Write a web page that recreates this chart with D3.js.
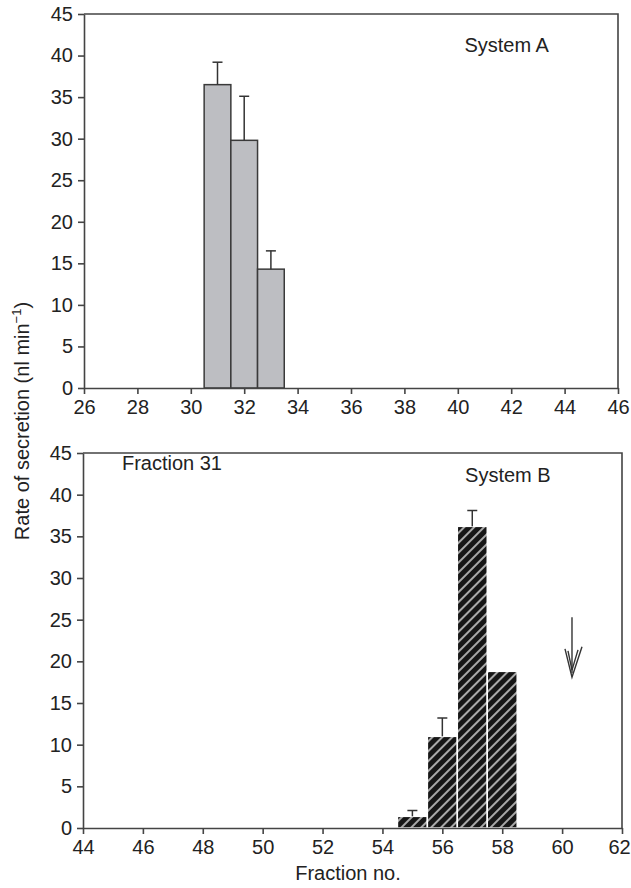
<!DOCTYPE html>
<head>
<meta charset="utf-8">
<script src="https://cdn.jsdelivr.net/npm/d3@7/dist/d3.min.js"></script>
<style>
body { margin: 0; background: #fff; }
svg text { font-family: "Liberation Sans", Arial, sans-serif; fill: #222; }
.axis path, .axis line { stroke: #444; stroke-width: 1.6; }
.axis text { font-size: 20px; fill: #222; }
</style>
</head>
<body>
<svg id="chart" width="631" height="888"></svg>
<script>
// data
var yTicks = [0, 5, 10, 15, 20, 25, 30, 35, 40, 45];

var fractionsA = [31, 32, 33];
var ratesA = [36.5, 29.8, 14.3];
var errorsA = [2.7, 5.3, 2.2];
var xTicksA = [26, 28, 30, 32, 34, 36, 38, 40, 42, 44, 46];

var fractionsB = [55, 56, 57, 58];
var ratesB = [1.4, 11.0, 36.2, 18.8];
var errorsB = [0.7, 2.2, 1.9, 0];
var xTicksB = [44, 46, 48, 50, 52, 54, 56, 58, 60, 62];

var svg = d3.select("#chart");

// hatch for system B bars
var defs = svg.append("defs");
var pat = defs.append("pattern")
    .attr("id", "hatch")
    .attr("patternUnits", "userSpaceOnUse")
    .attr("width", 7).attr("height", 7)
    .attr("patternTransform", "rotate(45)");
pat.append("rect").attr("width", 7).attr("height", 7).attr("fill", "#161616");
pat.append("line").attr("x1", 1).attr("y1", 0).attr("x2", 1).attr("y2", 7)
    .attr("stroke", "#e8e8e8").attr("stroke-width", 1.4);

function panel(box, xDomain, xTicks, fractions, rates, errors, style) {
    var x = d3.scaleLinear().domain(xDomain).range([box.left, box.right]);
    var y = d3.scaleLinear().domain([0, 45]).range([box.bottom, box.top]);
    var g = svg.append("g");

    // frame top + right
    g.append("path")
        .attr("d", `M${box.left},${box.top}H${box.right}V${box.bottom}`)
        .attr("fill", "none").attr("stroke", "#444").attr("stroke-width", 1.6);

    var bars = g.selectAll("rect.bar").data(fractions).enter().append("rect")
        .attr("class", "bar")
        .attr("x", d => x(d - 0.5))
        .attr("width", d => x(d + 0.5) - x(d - 0.5))
        .attr("y", (d, i) => y(rates[i]))
        .attr("height", (d, i) => y(0) - y(rates[i]));
    if (style == "grey") {
        bars.attr("fill", "#bdbec2").attr("stroke", "#3a3a3a").attr("stroke-width", 1.5);
    } else {
        bars.attr("fill", "url(#hatch)").attr("stroke", "#fff").attr("stroke-width", 1.5);
    }

    // error bars, upward only
    fractions.forEach(function(f, i) {
        if (!errors[i]) return;
        var capY = y(rates[i] + errors[i]);
        g.append("line").attr("x1", x(f)).attr("x2", x(f))
            .attr("y1", y(rates[i])).attr("y2", capY)
            .attr("stroke", "#333").attr("stroke-width", 1.5);
        g.append("line").attr("x1", x(f) - 5).attr("x2", x(f) + 5)
            .attr("y1", capY).attr("y2", capY)
            .attr("stroke", "#333").attr("stroke-width", 1.5);
    });

    g.append("g").attr("class", "axis")
        .attr("transform", `translate(${box.left},0)`)
        .call(d3.axisLeft(y).tickValues(yTicks).tickSize(6).tickPadding(5).tickSizeOuter(0));
    var xa = g.append("g").attr("class", "axis")
        .attr("transform", `translate(0,${box.bottom})`)
        .call(d3.axisBottom(x).tickValues(xTicks).tickSize(6).tickPadding(6).tickSizeOuter(0));
    // keep the last label inside the page
    xa.selectAll(".tick text").filter(d => d == xDomain[1] && x(d) > 620).attr("dx", -3);

    return {x: x, y: y, g: g};
}

var a = panel({left: 84, right: 618, top: 14, bottom: 388}, [26, 46], xTicksA, fractionsA, ratesA, errorsA, "grey");
var b = panel({left: 83, right: 622, top: 453, bottom: 828}, [44, 62], xTicksB, fractionsB, ratesB, errorsB, "hatch");

a.g.append("text").attr("x", a.x(40.25)).attr("y", a.y(40.4)).attr("font-size", 20).text("System A");
b.g.append("text").attr("x", b.x(56.76)).attr("y", b.y(41.5)).attr("font-size", 20).text("System B");
b.g.append("text").attr("x", b.x(45.3)).attr("y", b.y(43.0)).attr("font-size", 20).text("Fraction 31");

// open arrow marking fraction ~60
var arrX = b.x(60.33), arrTop = b.y(25.3), arrTip = b.y(18.1), arrHead = b.y(21.5);
var arrow = b.g.append("g").attr("fill", "none").attr("stroke", "#333").attr("stroke-width", 1.4);
arrow.append("line").attr("x1", arrX).attr("x2", arrX).attr("y1", arrTop).attr("y2", arrTip - 4);
arrow.append("path").attr("d", `M${arrX - 7},${arrHead}L${arrX},${arrTip}L${arrX + 10},${arrHead - 2}`);
arrow.append("path").attr("d", `M${arrX - 4},${arrHead + 2}L${arrX},${arrTip - 7}L${arrX + 6},${arrHead + 1}`);

// shared labels
var ylab = svg.append("text")
    .attr("transform", "translate(29,421) rotate(-90)")
    .attr("text-anchor", "middle").attr("font-size", 20);
ylab.append("tspan").text("Rate of secretion (nl min");
ylab.append("tspan").attr("dy", -8).attr("font-size", 13).text("\u22121");
ylab.append("tspan").attr("dy", 8).text(")");

svg.append("text")
    .attr("x", 348).attr("y", 880)
    .attr("text-anchor", "middle").attr("font-size", 20)
    .text("Fraction no.");
</script>
</body>
</html>
